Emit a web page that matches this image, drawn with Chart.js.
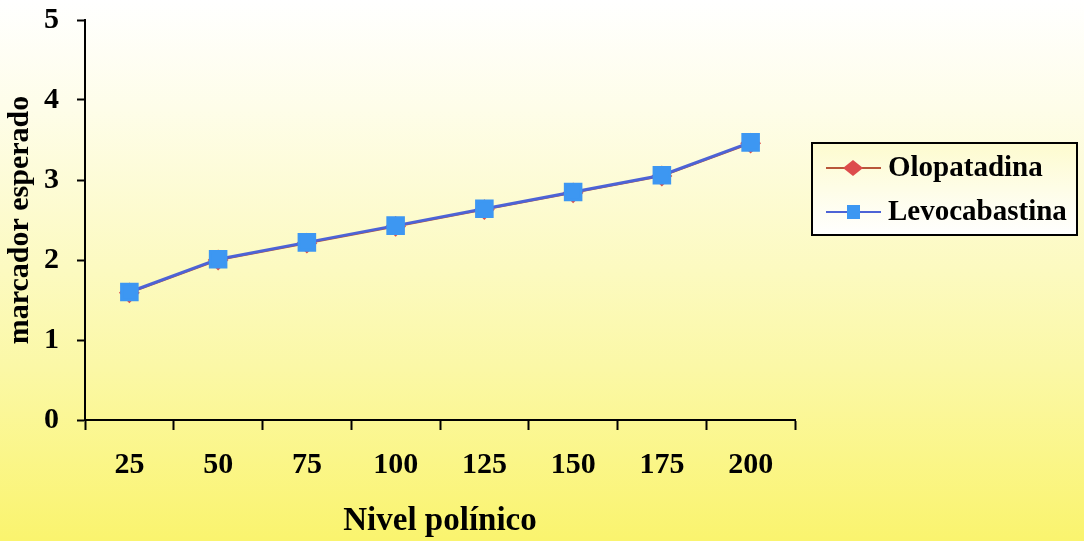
<!DOCTYPE html>
<html>
<head>
<meta charset="utf-8">
<script src="https://cdn.jsdelivr.net/npm/chart.js@4/dist/chart.umd.min.js"></script>
<style>
  html, body { margin: 0; padding: 0; background: #ffffff; }
  #wrap { width: 1084px; height: 541px; position: relative; }
</style>
</head>
<body>
<div id="wrap"><canvas id="c" width="1084" height="541"></canvas></div>
<script>
// Pollen level categories and expected scores per antihistamine
const categories = ['25', '50', '75', '100', '125', '150', '175', '200'];
const olopatadina = [1.59, 2.00, 2.21, 2.42, 2.63, 2.84, 3.05, 3.46];
const levocabastina = [1.60, 2.01, 2.22, 2.43, 2.64, 2.85, 3.06, 3.47];
const yTicks = [0, 1, 2, 3, 4, 5];

const SERIF = '"Liberation Serif", "Times New Roman", serif';

// Page background: white fading into yellow towards the bottom
const backgroundPlugin = {
  id: 'bg',
  beforeDraw(chart) {
    const { ctx, width, height } = chart;
    const g = ctx.createLinearGradient(0, 0, 0, height);
    g.addColorStop(0, '#ffffff');
    g.addColorStop(0.2, '#fefde9');
    g.addColorStop(0.5, '#fcfac0');
    g.addColorStop(0.68, '#fbf8a6');
    g.addColorStop(1, '#faf46e');
    ctx.save();
    ctx.fillStyle = g;
    ctx.fillRect(0, 0, width, height);
    ctx.restore();
  }
};

// Boxed legend with line + marker swatches on the right side
const boxLegendPlugin = {
  id: 'boxLegend',
  afterDraw(chart) {
    const { ctx } = chart;
    const x = 812, y = 143, w = 265, h = 92;
    ctx.save();
    const g = ctx.createLinearGradient(0, y, 0, y + h);
    g.addColorStop(0, '#fdfbcf');
    g.addColorStop(1, '#ffffff');
    ctx.fillStyle = g;
    ctx.fillRect(x, y, w, h);
    ctx.lineWidth = 2;
    ctx.strokeStyle = '#000000';
    ctx.strokeRect(x, y, w, h);

    const rows = [168, 212];
    chart.data.datasets.forEach((ds, i) => {
      const cy = rows[i];
      ctx.strokeStyle = ds.borderColor;
      ctx.lineWidth = 2;
      ctx.beginPath();
      ctx.moveTo(826, cy);
      ctx.lineTo(881, cy);
      ctx.stroke();
      ctx.fillStyle = ds.pointBackgroundColor;
      if (ds.pointStyle === 'rectRot') {
        ctx.beginPath();
        ctx.moveTo(853, cy - 8);
        ctx.lineTo(863, cy);
        ctx.lineTo(853, cy + 8);
        ctx.lineTo(843, cy);
        ctx.closePath();
        ctx.fill();
      } else {
        ctx.fillRect(847, cy - 7, 13, 14);
      }
      ctx.fillStyle = '#000000';
      ctx.font = 'bold 29px ' + SERIF;
      ctx.textBaseline = 'middle';
      ctx.textAlign = 'left';
      ctx.fillText(ds.label, 888, cy + 1);
    });
    ctx.restore();
  }
};

new Chart(document.getElementById('c'), {
  type: 'line',
  data: {
    labels: categories,
    datasets: [
      {
        label: 'Olopatadina',
        data: olopatadina,
        borderColor: '#b8563a',
        backgroundColor: '#dd4c4c',
        pointBackgroundColor: '#dd4c4c',
        pointBorderColor: '#dd4c4c',
        pointStyle: 'rectRot',
        pointRadius: 9,
        borderWidth: 2,
        order: 1
      },
      {
        label: 'Levocabastina',
        data: levocabastina,
        borderColor: '#4d63d6',
        backgroundColor: '#3d97f2',
        pointBackgroundColor: '#3d97f2',
        pointBorderColor: '#3d97f2',
        pointStyle: 'rect',
        pointRadius: 11,
        borderWidth: 3,
        order: 0
      }
    ]
  },
  options: {
    responsive: false,
    animation: false,
    layout: { padding: { left: 0, right: 289, top: 20, bottom: 0 } },
    plugins: {
      legend: { display: false },
      tooltip: { enabled: false }
    },
    scales: {
      x: {
        type: 'category',
        offset: true,
        afterFit(scale) {
          scale.height = 121;
          scale.paddingLeft = 0;
          scale.paddingRight = 0;
        },
        grid: {
          offset: true,
          drawOnChartArea: false,
          drawTicks: true,
          tickLength: 10,
          tickWidth: 2,
          tickColor: '#000000'
        },
        border: { display: true, color: '#000000', width: 2 },
        ticks: {
          color: '#000000',
          padding: 17,
          maxRotation: 0,
          font: { family: SERIF, size: 30, weight: 'bold' }
        },
        title: {
          display: true,
          text: 'Nivel polínico',
          color: '#000000',
          padding: { top: 10, bottom: 0 },
          font: { family: SERIF, size: 33, weight: 'bold' }
        }
      },
      y: {
        min: 0,
        max: 5,
        afterFit(scale) {
          scale.width = 85;
          scale.paddingTop = 0;
          scale.paddingBottom = 0;
        },
        afterBuildTicks(scale) { scale.ticks = yTicks.map(v => ({ value: v })); },
        grid: {
          drawOnChartArea: false,
          drawTicks: true,
          tickLength: 8,
          tickWidth: 2,
          tickColor: '#000000'
        },
        border: { display: true, color: '#000000', width: 2 },
        ticks: {
          color: '#000000',
          padding: 18,
          font: { family: SERIF, size: 30, weight: 'bold' }
        },
        title: {
          display: true,
          text: 'marcador esperado',
          color: '#000000',
          padding: { top: 2, bottom: 0 },
          font: { family: SERIF, size: 30, weight: 'bold' }
        }
      }
    }
  },
  plugins: [backgroundPlugin, boxLegendPlugin]
});
</script>
</body>
</html>
